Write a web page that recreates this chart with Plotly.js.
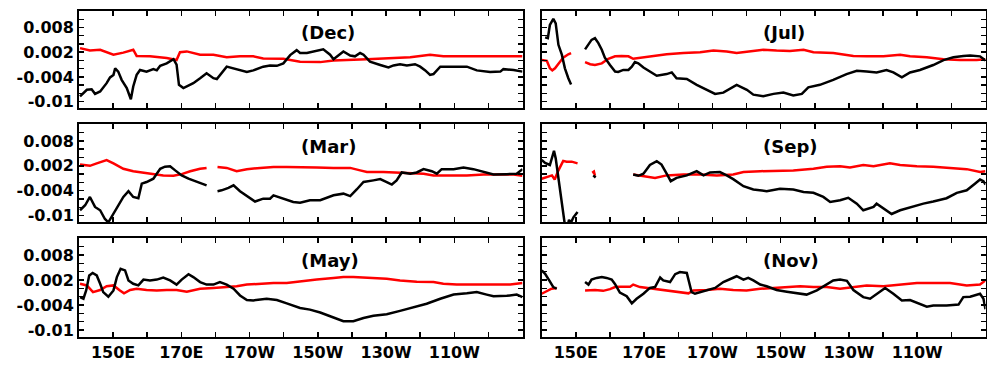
<!DOCTYPE html>
<html>
<head>
<meta charset="utf-8">
<script src="https://cdn.plot.ly/plotly-3.0.1.min.js"></script>
<style>html,body{margin:0;padding:0;background:#fff;}#chart{width:987px;height:367px;}</style>
</head>
<body>
<div id="chart"></div>
<script>
// ---------- data (longitude in degrees east, value) ----------
const panelTitles = ['(Dec)', '(Jul)', '(Mar)', '(Sep)', '(May)', '(Nov)'];

const xTickVals = [140,150,160,170,180,190,200,210,220,230,240,250,260,270];
const xTickText = ['','150E','','170E','','170W','','150W','','130W','','110W','',''];
const yTickVals = [-0.010,-0.008,-0.006,-0.004,-0.002,0,0.002,0.004,0.006,0.008,0.010];
const yTickText = ['-0.01','','','-0.004','','','0.002','','','0.008',''];

// Dec
const decBlackLon = [140.3,142.3,143.7,144.7,146.2,148.1,149.1,150.1,150.6,151.5,152.5,154,155.2,155.9,156.9,157.9,159.8,161.8,162.8,163.8,165.7,167.7,168.6,169.3,170.6,173.5,175.5,177.4,179.4,180.4,183.3,186.2,189.2,191.1,194,196,198,199.9,201.9,203.8,204.8,206.8,208.7,211.6,213.6,214.6,217.5,219.5,220.9,222.4,223.4,225.3,228.3,230.7,232.2,234.1,236.1,238.5,240,241.5,242.9,243.9,245.9,249.8,253.7,256.6,260.5,263.5,264.4,267.4,270];
const decBlack = [-0.0087,-0.0071,-0.0070,-0.0081,-0.0075,-0.0055,-0.0041,-0.0035,-0.0019,-0.0027,-0.0047,-0.0067,-0.0094,-0.0063,-0.0035,-0.0023,-0.0027,-0.0021,-0.0024,-0.0013,-0.0007,0.0003,-0.0010,-0.0059,-0.0067,-0.0055,-0.0043,-0.0031,-0.0043,-0.0045,-0.0015,-0.0021,-0.0028,-0.0024,-0.0015,-0.0012,-0.0013,-0.0007,0.0013,0.0025,0.0018,0.0018,0.0022,0.0027,0.0014,0.0003,0.0022,0.0012,0.0010,0.0018,0.0014,-0.0003,-0.0011,-0.0017,-0.0012,-0.0009,-0.0012,-0.0009,-0.0015,-0.0024,-0.0035,-0.0033,-0.0015,-0.0015,-0.0015,-0.0024,-0.0028,-0.0027,-0.0021,-0.0023,-0.0027];
const decRedLon = [140.3,143.2,146.2,150.1,153,155.9,156.9,160.8,165.7,168.6,169.6,171.6,175.5,179.4,183.3,187.2,191.1,194,199.9,204.8,210.7,214.6,224.4,230.2,237.1,242.9,246.8,253.7,263.5,270];
const decRed = [0.0030,0.0024,0.0026,0.0014,0.0019,0.0026,0.0011,0.0010,0.0006,0.0001,0.0020,0.0022,0.0014,0.0014,0.0008,0.0010,0.0010,0.0005,0.0004,-0.0003,-0.0004,0.0000,0.0003,0.0006,0.0008,0.0014,0.0010,0.0010,0.0010,0.0010];

// Jul
const julBlackLon = [141,141.8,142.4,143.4,144.1,144.9,145.9,146.8,147.8,148.6,150.5,152.7,153.7,154.6,155.6,156.6,157.6,158.5,160,161.5,162.4,163.9,165.4,166.4,167.3,168.3,169.8,173.7,176.6,178.1,179.5,182.5,185.4,188.3,190.8,193.2,197.1,200.1,202,204.9,207.9,210.8,213.7,216.2,218.1,221.5,225.4,229.3,232.3,235.2,238.1,241,243,245.5,247.9,250.8,254.7,257.7,260.6,263.5,265.5,268.4,270];
const julBlack = [0.0056,0.0054,0.0086,0.0101,0.0090,0.0038,0.0014,-0.0019,-0.0043,-0.0058,null,0.0027,0.0038,0.0050,0.0054,0.0042,0.0026,0.0007,-0.0011,-0.0027,-0.0028,-0.0023,-0.0023,-0.0015,-0.0004,-0.0007,-0.0017,-0.0037,-0.0033,-0.0029,-0.0043,-0.0045,-0.0059,-0.0071,-0.0081,-0.0078,-0.0059,-0.0071,-0.0083,-0.0087,-0.0081,-0.0078,-0.0085,-0.0081,-0.0065,-0.0059,-0.0047,-0.0033,-0.0025,-0.0027,-0.0029,-0.0023,-0.0029,-0.0041,-0.0029,-0.0023,-0.0011,0.0001,0.0008,0.0011,0.0012,0.0010,0.0000];
const julRedLon = [140,141.5,142.4,143.1,143.9,144.9,146.3,147.8,148.6,150.5,152.7,154.2,155.6,157.6,159.5,161.5,163.4,165.4,166.8,171.7,176.6,181.5,186.4,190.3,194.2,197.1,201,204.9,208.8,212.7,216.7,219.6,225.4,231.3,235.2,240.1,245,247.9,252.8,257.7,262.5,267.4,270];
const julRed = [0.0001,-0.0001,-0.0019,-0.0024,-0.0019,-0.0007,0.0007,0.0015,0.0018,null,-0.0004,-0.0009,-0.0011,-0.0007,0.0004,0.0010,0.0011,0.0010,0.0004,0.0010,0.0015,0.0018,0.0020,0.0024,0.0022,0.0018,0.0022,0.0026,0.0024,0.0023,0.0026,0.0020,0.0018,0.0011,0.0010,0.0010,0.0014,0.0010,0.0008,0.0003,0.0001,0.0001,0.0003];

// Mar
const marBlackLon = [140.3,141.8,143.2,144,144.7,146.2,147.6,148.6,150.1,151.5,153,154.5,155.9,157.4,158.4,159.8,161.8,162.8,163.8,165.2,166.7,168.2,170.1,172.1,174.5,177.4,179,180.6,181.8,183.8,185.3,187.2,189.7,191.6,194,196,197,199.9,202.8,204.8,207.7,210.7,214.6,217.5,219.5,221.4,223.4,226.3,228.3,230.2,231.7,233.1,234.6,237.1,239,241,243.4,244.9,246.3,249.8,252.7,255.6,258.6,261.5,265.4,268.3,270];
const marBlack = [-0.0087,-0.0075,-0.0055,-0.0067,-0.0079,-0.0087,-0.0108,-0.0116,-0.0096,-0.0075,-0.0055,-0.0041,-0.0055,-0.0058,-0.0023,-0.0019,-0.0011,0.0001,0.0013,0.0018,0.0019,0.0009,-0.0003,-0.0011,-0.0019,-0.0027,null,-0.0041,-0.0039,-0.0033,-0.0027,-0.0041,-0.0055,-0.0066,-0.0059,-0.0059,-0.0051,-0.0059,-0.0067,-0.0069,-0.0063,-0.0063,-0.0051,-0.0047,-0.0053,-0.0037,-0.0019,-0.0015,-0.0012,-0.0019,-0.0025,-0.0015,0.0004,0.0001,0.0004,0.0012,0.0007,0.0001,0.0012,0.0012,0.0016,0.0012,0.0005,-0.0001,0.0000,0.0001,0.0012];
const marRedLon = [140.3,143.2,145.2,148.1,150.1,153,155.9,158.9,161.8,164.7,167.7,170.1,172.6,175.5,177.4,179,180.6,183.3,186.2,189.2,193.1,197,200.9,204.8,209.7,214.6,219.5,222.4,224.4,229.2,232.2,237.1,241,243.9,247.8,253.7,258.6,263.5,267.4,270];
const marRed = [0.0023,0.0020,0.0026,0.0034,0.0026,0.0013,0.0007,0.0004,0.0001,-0.0003,-0.0004,0.0000,0.0007,0.0013,0.0015,null,0.0017,0.0015,0.0007,0.0012,0.0015,0.0017,0.0017,0.0017,0.0016,0.0015,0.0015,0.0009,0.0005,0.0005,0.0004,0.0004,0.0001,-0.0003,-0.0003,-0.0003,-0.0001,-0.0001,-0.0001,-0.0004];

// Sep
const sepBlackLon = [140,141,142.4,143.6,144.1,144.9,145.9,146.6,147,147.6,148,148.5,149.3,150.5,152,155.1,155.5,155.8,160,166.8,168.3,169.8,171.7,173.7,175.1,176.6,177.8,179.5,182.5,185.4,187.4,189.3,192.2,194.2,196.1,199.1,202,205.9,209.8,213.7,216.7,219.6,222.5,224.5,227.4,229.8,232.3,234.2,237.2,238.1,240.1,242.5,245,248.9,251.8,254.7,258.6,261.6,264.5,266.9,268.4,269.4,270];
const sepBlack = [0.0034,0.0027,0.0022,0.0056,0.0038,-0.0007,-0.0063,-0.0112,-0.0135,-0.0125,-0.0110,-0.0118,-0.0104,-0.0091,null,-0.0003,-0.0005,-0.0008,null,-0.0001,-0.0004,0.0001,0.0022,0.0031,0.0023,0.0001,-0.0017,-0.0009,-0.0003,0.0007,-0.0003,0.0004,0.0005,-0.0003,-0.0012,-0.0029,-0.0037,-0.0041,-0.0035,-0.0037,-0.0043,-0.0045,-0.0055,-0.0067,-0.0063,-0.0057,-0.0071,-0.0087,-0.0079,-0.0071,-0.0082,-0.0096,-0.0087,-0.0077,-0.0071,-0.0066,-0.0058,-0.0045,-0.0039,-0.0023,-0.0013,-0.0017,-0.0025];
const sepRedLon = [140,141.5,143,143.8,144.9,146.3,147.3,148.8,150.5,152,154.8,155.3,155.6,160,166.8,169.8,173.2,176.6,181.5,186.4,191.3,196.1,199.1,204,208.8,213.7,219.6,223.5,227.4,230.3,234.2,237.2,242,245,249.9,254.7,259.6,264.5,268.4,270];
const sepRed = [-0.0011,-0.0007,-0.0003,-0.0013,0.0009,0.0032,0.0030,0.0030,0.0026,null,0.0003,0.0006,-0.0004,null,-0.0001,-0.0004,-0.0009,-0.0003,-0.0001,-0.0001,-0.0003,-0.0001,0.0005,0.0007,0.0008,0.0009,0.0013,0.0018,0.0019,0.0016,0.0022,0.0019,0.0026,0.0022,0.0019,0.0018,0.0015,0.0012,0.0005,0.0007];

// May
const mayBlackLon = [140.3,141.3,142.1,143,144,145.2,146.2,147.1,148.6,150.1,151.1,152.2,153.5,154.5,155.9,157.4,158.9,160.8,162.8,164.7,166.7,168.6,170.1,172.1,173.5,175.5,177.4,179.4,181.3,183.3,185.3,187.2,189.2,191.1,195,198,200.9,204.8,207.7,210.7,214.6,217.5,220.4,223.4,226.3,230.2,234.1,238,241.9,245.9,249.8,253.7,256.6,259.5,261.5,265.4,268.3,270];
const mayBlack = [-0.0021,-0.0025,-0.0005,0.0031,0.0037,0.0031,0.0011,-0.0009,-0.0020,-0.0005,0.0027,0.0047,0.0043,0.0019,0.0011,0.0007,0.0021,0.0019,0.0021,0.0026,0.0019,0.0009,0.0021,0.0034,0.0027,0.0015,0.0009,0.0009,0.0015,0.0009,-0.0001,-0.0017,-0.0028,-0.0029,-0.0025,-0.0028,-0.0036,-0.0047,-0.0051,-0.0058,-0.0070,-0.0079,-0.0079,-0.0071,-0.0066,-0.0062,-0.0054,-0.0046,-0.0037,-0.0025,-0.0015,-0.0012,-0.0009,-0.0015,-0.0019,-0.0018,-0.0015,-0.0021];
const mayRedLon = [140.3,142.3,144.1,146.2,148.1,150.1,152,153.2,155,156.9,159.8,162.8,165.7,168.6,171.6,173.5,175.5,179.4,183.3,186.2,189.2,193.1,197,200.9,204.8,209.7,214.6,217.5,220.4,224.4,230.2,234.1,239,243.9,246.8,250.7,255.6,261.5,266.4,270];
const mayRed = [0.0011,0.0007,-0.0009,-0.0004,0.0005,0.0007,-0.0005,-0.0012,-0.0004,-0.0001,-0.0004,-0.0005,-0.0004,-0.0004,-0.0008,-0.0005,-0.0001,0.0001,0.0003,0.0005,0.0009,0.0011,0.0013,0.0013,0.0017,0.0021,0.0025,0.0027,0.0027,0.0025,0.0023,0.0019,0.0016,0.0015,0.0011,0.0009,0.0009,0.0009,0.0009,0.0013];

// Nov
const novBlackLon = [140,141,142.2,143.4,144.4,148,152.7,153.7,154.6,156.1,157.6,159,160.5,161.5,162.9,164.9,166.4,167.8,169.8,171.7,173.2,174.7,175.6,177.6,179.1,180.5,182.5,183.9,184.9,186.4,188.3,190.8,193.2,195.7,197.1,199.1,200.5,202,204,205.9,208.8,211.8,215.7,217.6,220.6,223.5,225.4,227.4,229.4,231.3,234.2,236.2,238.1,240.6,243,245.5,247.9,250.3,252.8,254.7,258.6,262.1,263.5,265.5,268.4,269.4,270];
const novBlack = [0.0043,0.0035,0.0019,0.0003,-0.0001,null,0.0015,0.0009,0.0021,0.0025,0.0027,0.0025,0.0021,0.0010,-0.0010,-0.0019,-0.0036,-0.0025,-0.0013,0.0001,0.0003,0.0026,0.0019,0.0015,0.0034,0.0039,0.0037,-0.0009,-0.0013,-0.0009,-0.0005,0.0001,0.0015,0.0025,0.0029,0.0021,0.0025,0.0019,0.0009,0.0005,-0.0004,-0.0008,-0.0012,-0.0015,-0.0005,0.0009,0.0019,0.0021,0.0018,-0.0004,-0.0021,-0.0025,-0.0013,0.0001,-0.0013,-0.0029,-0.0028,-0.0036,-0.0044,-0.0041,-0.0041,-0.0039,-0.0021,-0.0020,-0.0013,-0.0025,-0.0050];
const novRedLon = [140,141.5,142.9,144.4,148,152.7,155.6,158,160,161.5,162.9,165.9,166.8,168.8,172.7,176.6,180.5,183,184.4,188.3,192.2,196.1,200,204,207.9,211.8,215.7,219.6,223.5,227.4,231.3,235.2,240.1,245,249.9,254.7,259.6,264.5,268.4,270];
const novRed = [-0.0013,-0.0007,-0.0001,0.0001,null,-0.0005,-0.0004,-0.0006,-0.0002,0.0003,0.0004,0.0004,0.0009,0.0003,-0.0001,-0.0005,-0.0009,-0.0012,-0.0005,-0.0004,-0.0001,-0.0004,-0.0005,-0.0001,0.0001,0.0003,0.0005,0.0003,0.0003,-0.0001,0.0003,0.0007,0.0005,0.0009,0.0013,0.0013,0.0013,0.0007,0.0009,0.0019];

// ---------- build ----------
const W = 987, H = 367;
const panels = [
  {bl: decBlackLon, b: decBlack, rl: decRedLon, r: decRed},
  {bl: julBlackLon, b: julBlack, rl: julRedLon, r: julRed},
  {bl: marBlackLon, b: marBlack, rl: marRedLon, r: marRed},
  {bl: sepBlackLon, b: sepBlack, rl: sepRedLon, r: sepRed},
  {bl: mayBlackLon, b: mayBlack, rl: mayRedLon, r: mayRed},
  {bl: novBlackLon, b: novBlack, rl: novRedLon, r: novRed}
];
const colPx = [[79, 522.5], [541.7, 985.5]];
const rowPx = [[11, 108.3], [124.3, 222.3], [238.3, 336.7]];

const traces = [];
const layout = {
  width: W, height: H,
  margin: {l: 0, r: 0, t: 0, b: 0},
  paper_bgcolor: '#ffffff', plot_bgcolor: '#ffffff',
  showlegend: false,
  font: {family: 'DejaVu Sans', color: '#000'},
  annotations: []
};
const tf = {family: 'DejaVu Sans', size: 16, color: '#000', weight: 'bold'};

panels.forEach((p, i) => {
  const row = Math.floor(i / 2), col = i % 2;
  const n = i + 1;
  const xk = n === 1 ? 'x' : 'x' + n, yk = n === 1 ? 'y' : 'y' + n;
  const xName = n === 1 ? 'xaxis' : 'xaxis' + n, yName = n === 1 ? 'yaxis' : 'yaxis' + n;
  traces.push({x: p.rl, y: p.r, xaxis: xk, yaxis: yk, type: 'scatter', mode: 'lines',
    line: {color: '#ff0000', width: 2.5}, connectgaps: false, hoverinfo: 'skip'});
  traces.push({x: p.bl, y: p.b, xaxis: xk, yaxis: yk, type: 'scatter', mode: 'lines',
    line: {color: '#000000', width: 2.5}, connectgaps: false, hoverinfo: 'skip'});
  layout[xName] = {
    domain: [colPx[col][0] / W, colPx[col][1] / W], anchor: yk, range: [140, 270],
    showline: true, mirror: 'ticks', linecolor: '#000', linewidth: 2,
    ticks: 'inside', ticklen: 5, tickwidth: 1.5, tickcolor: '#000',
    tickmode: 'array', tickvals: xTickVals, ticktext: xTickText,
    showticklabels: row === 2, tickfont: tf,
    showgrid: false, zeroline: false, fixedrange: true
  };
  layout[yName] = {
    domain: [1 - rowPx[row][1] / H, 1 - rowPx[row][0] / H], anchor: xk, range: [-0.0116, 0.012],
    showline: true, mirror: 'ticks', linecolor: '#000', linewidth: 2,
    ticks: 'inside', ticklen: 5, tickwidth: 1.5, tickcolor: '#000',
    tickmode: 'array', tickvals: yTickVals, ticktext: yTickText,
    showticklabels: col === 0, tickfont: tf,
    showgrid: false, zeroline: false, fixedrange: true
  };
  layout.annotations.push({
    text: panelTitles[i], xref: xk + ' domain', yref: yk + ' domain',
    x: 0.495, y: 0.775, xanchor: 'left', yanchor: 'middle', showarrow: false,
    font: {family: 'DejaVu Sans', size: 18, color: '#000', weight: 'bold'}
  });
});

Plotly.newPlot('chart', traces, layout, {staticPlot: true, displayModeBar: false});
</script>
</body>
</html>
